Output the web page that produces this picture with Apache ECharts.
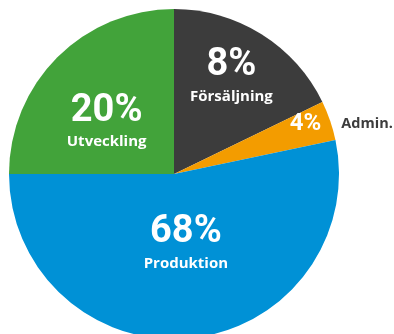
<!DOCTYPE html>
<html><head><meta charset="utf-8">
<script src="https://cdn.jsdelivr.net/npm/echarts@6/dist/echarts.min.js"></script>
<style>html,body{margin:0;padding:0;background:#fff}#c{width:394px;height:334px}</style>
</head><body><div id="c"></div>
<script>
// Data
var categories = ['Försäljning', 'Admin.', 'Produktion', 'Utveckling'];
var sliceValues = [17.8, 3.9, 53.3, 25.0];        // slice sizes as drawn (share of circle, %)
var percentLabels = ['8%', '4%', '68%', '20%'];   // printed labels
var colors = ['#3c3c3c', '#f39c00', '#0091d6', '#42a33a'];

// Layout / style
var CX = 174, CY = 174, R = 165;
// label anchor relative to slice mid-angle: [angle offset deg, radius px, align]
var labelPlace = [[-1.5, 113, 'center'], [-4.3, 126, 'left'], [-3.7, 71, 'center'], [-7.4, 85, 'center']];
var FONT = 'Roboto', FONT2 = 'Open Sans';

var chart = echarts.init(document.getElementById('c'), null, {renderer: 'canvas'});
var total = sliceValues.reduce(function (a, b) { return a + b; }, 0);
var mids = [], acc = 0;
sliceValues.forEach(function (v) { mids.push((acc + v / 2) / total * 360); acc += v; });

var data = categories.map(function (c, i) {
  return {name: c, value: sliceValues[i], itemStyle: {color: colors[i]}};
});

chart.setOption({
  animation: false,
  series: [{
    type: 'pie',
    center: [CX, CY],
    radius: [0, R],
    startAngle: 90,
    clockwise: true,
    avoidLabelOverlap: false,
    emphasis: {disabled: true},
    labelLine: {show: false},
    data: data,
    label: {
      show: true,
      position: 'inside',
      fontFamily: FONT,
      formatter: function (p) {
        var i = p.dataIndex;
        if (i === 1) return '{s|' + percentLabels[i] + '}{o|' + categories[i] + '}';
        return '{b|' + percentLabels[i] + '}\n{n|' + categories[i] + '}';
      },
      rich: {
        b: {fontSize: 38, fontWeight: 'bold', color: '#fff', lineHeight: 40, fontFamily: FONT, align: 'center'},
        n: {fontSize: 15, fontWeight: 'bold', color: '#fff', lineHeight: 22, fontFamily: FONT2, align: 'center'},
        s: {fontSize: 24, fontWeight: 'bold', color: '#fff', lineHeight: 28, fontFamily: FONT},
        o: {fontSize: 14.5, fontWeight: 'bold', color: '#3c3c3c', lineHeight: 28, fontFamily: FONT2, padding: [0, 0, 0, 20]}
      }
    },
    labelLayout: function (p) {
      var i = p.dataIndex, pl = labelPlace[i];
      var a = (mids[i] + pl[0]) * Math.PI / 180;
      return {
        x: CX + pl[1] * Math.sin(a),
        y: CY - pl[1] * Math.cos(a),
        align: pl[2],
        verticalAlign: 'middle'
      };
    }
  }]
});
</script></body></html>
